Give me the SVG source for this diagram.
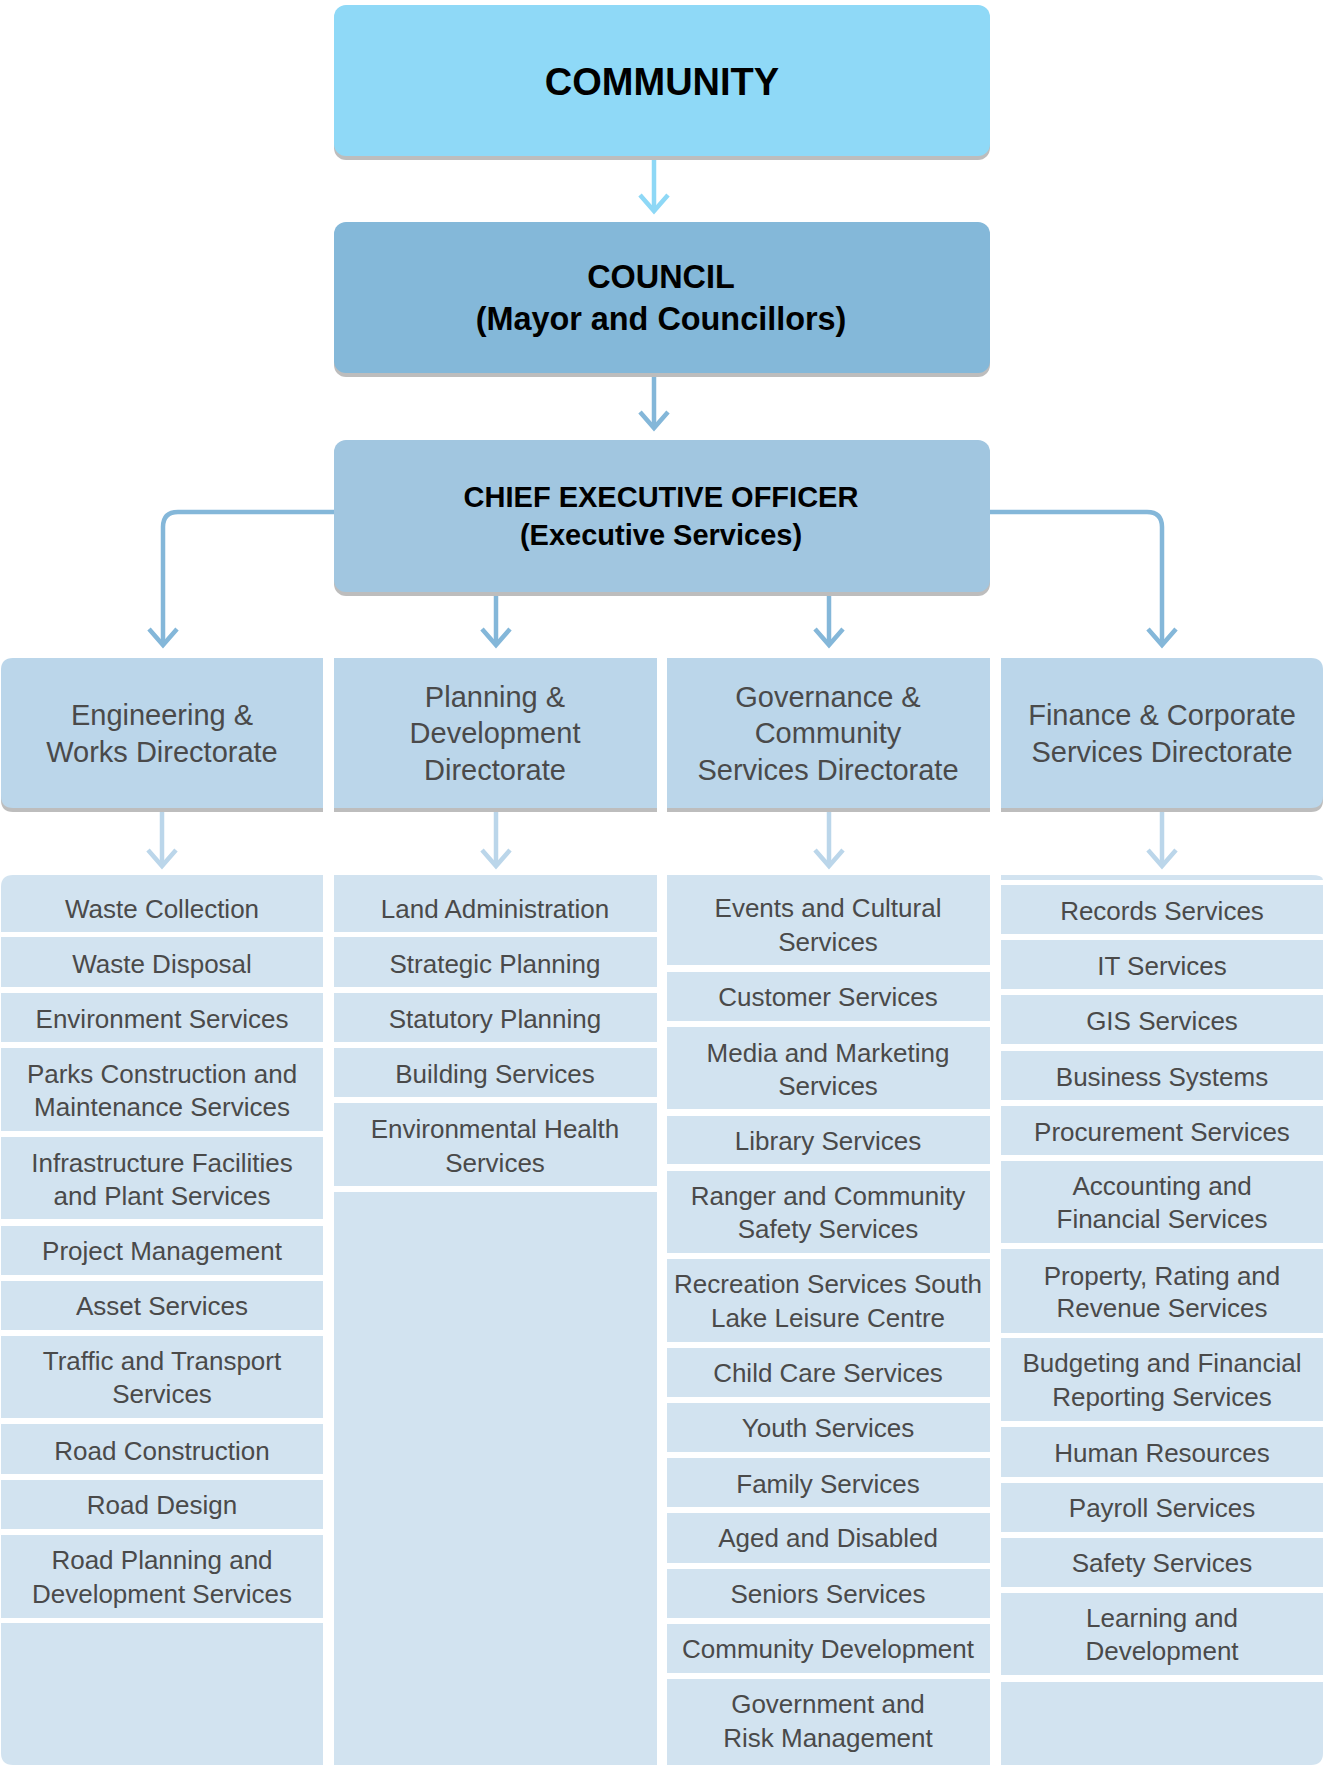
<svg xmlns="http://www.w3.org/2000/svg" width="1324" height="1765" viewBox="0 0 1324 1765">
<style>
.sh{fill:#BDBDBD}
.top{font-family:"Liberation Sans",Arial,sans-serif;font-weight:bold;fill:#000;text-anchor:middle}
.dir{fill:#BBD6EA}
.dt{font-family:"Liberation Sans",Arial,sans-serif;font-size:29px;fill:#4A4A4A;text-anchor:middle}
.svc{fill:#D2E3F0}
.st{font-family:"Liberation Sans",Arial,sans-serif;font-size:26px;fill:#4A4A4A;text-anchor:middle}
.ln{fill:none;stroke-width:4.5}
</style>
<defs>
<marker id="a1" markerUnits="userSpaceOnUse" markerWidth="40" markerHeight="40" viewBox="-20 -20 40 40" refX="0" refY="0" orient="auto"><path d="M-16,-14 L0,0 L-16,14" fill="none" stroke="#8ED8F6" stroke-width="4.5"/></marker>
<marker id="a2" markerUnits="userSpaceOnUse" markerWidth="40" markerHeight="40" viewBox="-20 -20 40 40" refX="0" refY="0" orient="auto"><path d="M-16,-14 L0,0 L-16,14" fill="none" stroke="#84B7D9" stroke-width="4.5"/></marker>
<marker id="a3" markerUnits="userSpaceOnUse" markerWidth="40" markerHeight="40" viewBox="-20 -20 40 40" refX="0" refY="0" orient="auto"><path d="M-16,-14 L0,0 L-16,14" fill="none" stroke="#BBD6EA" stroke-width="4.5"/></marker>
</defs>

<g id="connectors">
<path class="ln" stroke="#8ED8F6" d="M654,158 V211" marker-end="url(#a1)"/>
<path class="ln" stroke="#84B7D9" d="M654,375 V428" marker-end="url(#a2)"/>
<path class="ln" stroke="#84B7D9" d="M334,512 H178 Q163,512 163,527 V645" marker-end="url(#a2)"/>
<path class="ln" stroke="#84B7D9" d="M990,512 H1147 Q1162,512 1162,527 V645" marker-end="url(#a2)"/>
<path class="ln" stroke="#84B7D9" d="M496,594 V645" marker-end="url(#a2)"/>
<path class="ln" stroke="#84B7D9" d="M829,594 V645" marker-end="url(#a2)"/>
<path class="ln" stroke="#BBD6EA" d="M162,810 V866" marker-end="url(#a3)"/>
<path class="ln" stroke="#BBD6EA" d="M496,810 V866" marker-end="url(#a3)"/>
<path class="ln" stroke="#BBD6EA" d="M829,810 V866" marker-end="url(#a3)"/>
<path class="ln" stroke="#BBD6EA" d="M1162,810 V866" marker-end="url(#a3)"/>
</g>

<g id="community">
<rect class="sh" x="334" y="9" width="656" height="151" rx="12"/>
<rect x="334" y="5" width="656" height="151" rx="12" fill="#8FD9F7"/>
<text class="top" x="662" y="95" font-size="38">COMMUNITY</text>
</g>

<g id="council">
<rect class="sh" x="334" y="226" width="656" height="151" rx="12"/>
<rect x="334" y="222" width="656" height="151" rx="12" fill="#84B8D9"/>
<text class="top" x="661" y="288" font-size="32.4">COUNCIL</text>
<text class="top" x="661" y="330" font-size="32.4">(Mayor and Councillors)</text>
</g>

<g id="ceo">
<rect class="sh" x="334" y="444" width="656" height="152" rx="12"/>
<rect x="334" y="440" width="656" height="152" rx="12" fill="#A1C6E0"/>
<text class="top" x="661" y="507" font-size="29">CHIEF EXECUTIVE OFFICER</text>
<text class="top" x="661" y="545" font-size="29">(Executive Services)</text>
</g>

<g id="dir-engineering">
<path class="sh" d="M13,662 H323 V812 H13 Q1,812 1,800 V674 Q1,662 13,662 Z"/>
<path class="dir" d="M13,658 H323 V808 H13 Q1,808 1,796 V670 Q1,658 13,658 Z"/>
<text class="dt" x="162" y="725">Engineering &amp;</text>
<text class="dt" x="162" y="762">Works Directorate</text>
</g>
<g id="dir-planning">
<rect class="sh" x="334" y="662" width="323" height="150"/>
<rect class="dir" x="334" y="658" width="323" height="150"/>
<text class="dt" x="495" y="707">Planning &amp;</text>
<text class="dt" x="495" y="743">Development</text>
<text class="dt" x="495" y="780">Directorate</text>
</g>
<g id="dir-governance">
<rect class="sh" x="667" y="662" width="323" height="150"/>
<rect class="dir" x="667" y="658" width="323" height="150"/>
<text class="dt" x="828" y="707">Governance &amp;</text>
<text class="dt" x="828" y="743">Community</text>
<text class="dt" x="828" y="780">Services Directorate</text>
</g>
<g id="dir-finance">
<path class="sh" d="M1001,662 H1311 Q1323,662 1323,674 V800 Q1323,812 1311,812 H1001 Z"/>
<path class="dir" d="M1001,658 H1311 Q1323,658 1323,670 V796 Q1323,808 1311,808 H1001 Z"/>
<text class="dt" x="1162" y="725">Finance &amp; Corporate</text>
<text class="dt" x="1162" y="762">Services Directorate</text>
</g>

<g id="col-engineering">
<g id="s-waste-collection"><path class="svc" d="M13,875 H323 V932 H1 V887 Q1,875 13,875 Z"/><text class="st" x="162" y="918">Waste Collection</text></g>
<g id="s-waste-disposal"><rect class="svc" x="1" y="937" width="322" height="50"/><text class="st" x="162" y="973">Waste Disposal</text></g>
<g id="s-environment"><rect class="svc" x="1" y="993" width="322" height="49"/><text class="st" x="162" y="1028">Environment Services</text></g>
<g id="s-parks"><rect class="svc" x="1" y="1048" width="322" height="83"/><text class="st" x="162" y="1083">Parks Construction and</text><text class="st" x="162" y="1116">Maintenance Services</text></g>
<g id="s-infrastructure"><rect class="svc" x="1" y="1137" width="322" height="82"/><text class="st" x="162" y="1172">Infrastructure Facilities</text><text class="st" x="162" y="1205">and Plant Services</text></g>
<g id="s-project"><rect class="svc" x="1" y="1226" width="322" height="49"/><text class="st" x="162" y="1260">Project Management</text></g>
<g id="s-asset"><rect class="svc" x="1" y="1281" width="322" height="49"/><text class="st" x="162" y="1315">Asset Services</text></g>
<g id="s-traffic"><rect class="svc" x="1" y="1336" width="322" height="82"/><text class="st" x="162" y="1370">Traffic and Transport</text><text class="st" x="162" y="1403">Services</text></g>
<g id="s-road-construction"><rect class="svc" x="1" y="1424" width="322" height="50"/><text class="st" x="162" y="1460">Road Construction</text></g>
<g id="s-road-design"><rect class="svc" x="1" y="1480" width="322" height="49"/><text class="st" x="162" y="1514">Road Design</text></g>
<g id="s-road-planning"><rect class="svc" x="1" y="1535" width="322" height="83"/><text class="st" x="162" y="1569">Road Planning and</text><text class="st" x="162" y="1603">Development Services</text></g>
<g id="s-eng-empty"><path class="svc" d="M1,1623 H323 V1765 H13 Q1,1765 1,1753 Z"/></g>
</g>

<g id="col-planning">
<g id="s-land"><rect class="svc" x="334" y="875" width="323" height="57"/><text class="st" x="495" y="918">Land Administration</text></g>
<g id="s-strategic"><rect class="svc" x="334" y="937" width="323" height="50"/><text class="st" x="495" y="973">Strategic Planning</text></g>
<g id="s-statutory"><rect class="svc" x="334" y="993" width="323" height="49"/><text class="st" x="495" y="1028">Statutory Planning</text></g>
<g id="s-building"><rect class="svc" x="334" y="1048" width="323" height="49"/><text class="st" x="495" y="1083">Building Services</text></g>
<g id="s-envhealth"><rect class="svc" x="334" y="1103" width="323" height="83"/><text class="st" x="495" y="1138">Environmental Health</text><text class="st" x="495" y="1172">Services</text></g>
<g id="s-plan-empty"><rect class="svc" x="334" y="1192" width="323" height="573"/></g>
</g>

<g id="col-governance">
<g id="s-events"><rect class="svc" x="667" y="875" width="323" height="90"/><text class="st" x="828" y="917">Events and Cultural</text><text class="st" x="828" y="951">Services</text></g>
<g id="s-customer"><rect class="svc" x="667" y="972" width="323" height="49"/><text class="st" x="828" y="1006">Customer Services</text></g>
<g id="s-media"><rect class="svc" x="667" y="1027" width="323" height="82"/><text class="st" x="828" y="1062">Media and Marketing</text><text class="st" x="828" y="1095">Services</text></g>
<g id="s-library"><rect class="svc" x="667" y="1116" width="323" height="48"/><text class="st" x="828" y="1150">Library Services</text></g>
<g id="s-ranger"><rect class="svc" x="667" y="1171" width="323" height="82"/><text class="st" x="828" y="1205">Ranger and Community</text><text class="st" x="828" y="1238">Safety Services</text></g>
<g id="s-recreation"><rect class="svc" x="667" y="1259" width="323" height="83"/><text class="st" x="828" y="1293" font-size="25">Recreation Services South</text><text class="st" x="828" y="1327">Lake Leisure Centre</text></g>
<g id="s-childcare"><rect class="svc" x="667" y="1348" width="323" height="49"/><text class="st" x="828" y="1382">Child Care Services</text></g>
<g id="s-youth"><rect class="svc" x="667" y="1403" width="323" height="49"/><text class="st" x="828" y="1437">Youth Services</text></g>
<g id="s-family"><rect class="svc" x="667" y="1458" width="323" height="49"/><text class="st" x="828" y="1493">Family Services</text></g>
<g id="s-aged"><rect class="svc" x="667" y="1513" width="323" height="50"/><text class="st" x="828" y="1547">Aged and Disabled</text></g>
<g id="s-seniors"><rect class="svc" x="667" y="1569" width="323" height="49"/><text class="st" x="828" y="1603">Seniors Services</text></g>
<g id="s-commdev"><rect class="svc" x="667" y="1624" width="323" height="49"/><text class="st" x="828" y="1658">Community Development</text></g>
<g id="s-govrisk"><rect class="svc" x="667" y="1679" width="323" height="86"/><text class="st" x="828" y="1713">Government and</text><text class="st" x="828" y="1747">Risk Management</text></g>
</g>

<g id="col-finance">
<g id="s-fin-strip"><path class="svc" d="M1001,875 H1311 Q1323,875 1323,880 H1001 Z"/></g>
<g id="s-records"><rect class="svc" x="1001" y="885" width="322" height="49"/><text class="st" x="1162" y="920">Records Services</text></g>
<g id="s-it"><rect class="svc" x="1001" y="940" width="322" height="49"/><text class="st" x="1162" y="975">IT Services</text></g>
<g id="s-gis"><rect class="svc" x="1001" y="995" width="322" height="49"/><text class="st" x="1162" y="1030">GIS Services</text></g>
<g id="s-business"><rect class="svc" x="1001" y="1051" width="322" height="49"/><text class="st" x="1162" y="1086">Business Systems</text></g>
<g id="s-procurement"><rect class="svc" x="1001" y="1106" width="322" height="49"/><text class="st" x="1162" y="1141">Procurement Services</text></g>
<g id="s-accounting"><rect class="svc" x="1001" y="1161" width="322" height="82"/><text class="st" x="1162" y="1195">Accounting and</text><text class="st" x="1162" y="1228">Financial Services</text></g>
<g id="s-property"><rect class="svc" x="1001" y="1249" width="322" height="84"/><text class="st" x="1162" y="1285">Property, Rating and</text><text class="st" x="1162" y="1317">Revenue Services</text></g>
<g id="s-budgeting"><rect class="svc" x="1001" y="1338" width="322" height="83"/><text class="st" x="1162" y="1372">Budgeting and Financial</text><text class="st" x="1162" y="1406">Reporting Services</text></g>
<g id="s-hr"><rect class="svc" x="1001" y="1427" width="322" height="50"/><text class="st" x="1162" y="1462">Human Resources</text></g>
<g id="s-payroll"><rect class="svc" x="1001" y="1483" width="322" height="49"/><text class="st" x="1162" y="1517">Payroll Services</text></g>
<g id="s-safety"><rect class="svc" x="1001" y="1538" width="322" height="49"/><text class="st" x="1162" y="1572">Safety Services</text></g>
<g id="s-learning"><rect class="svc" x="1001" y="1593" width="322" height="82"/><text class="st" x="1162" y="1627">Learning and</text><text class="st" x="1162" y="1660">Development</text></g>
<g id="s-fin-empty"><path class="svc" d="M1001,1682 H1323 V1753 Q1323,1765 1311,1765 H1001 Z"/></g>
</g>
</svg>
